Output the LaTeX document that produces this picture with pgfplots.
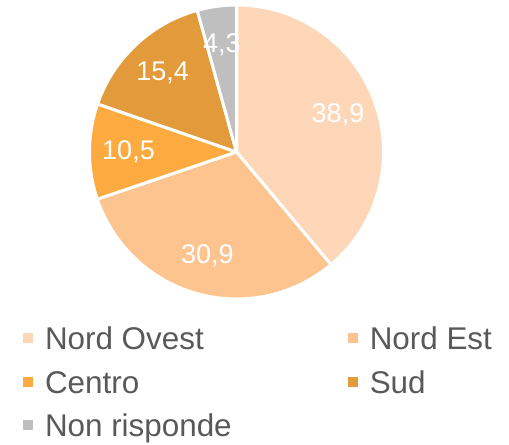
\documentclass[border=0pt]{standalone}
\usepackage{fontspec}
\setmainfont{Liberation Sans}
\usepackage{pgfplots}
\usepackage{pgfplotstable}
\pgfplotsset{compat=1.18}
\definecolor{cNO}{HTML}{FDD7B8}
\definecolor{cNE}{HTML}{FDC48F}
\definecolor{cCE}{HTML}{FDAB40}
\definecolor{cSU}{HTML}{E29A3A}
\definecolor{cNR}{HTML}{BFBFBF}
\definecolor{legtext}{HTML}{595959}

\pgfplotstableread[col sep=semicolon]{
region;value;color;lab
Nord Ovest;38.9;cNO;38,9
Nord Est;30.9;cNE;30,9
Centro;10.5;cCE;10,5
Sud;15.4;cSU;15,4
Non risponde;4.3;cNR;4,3
}\piedata

\begin{document}
\begin{tikzpicture}
\begin{axis}[
  scale only axis, width=509bp, height=445bp,
  xmin=0, xmax=509, ymin=-445, ymax=0,
  hide axis, clip=false,
  legend columns=2,
  legend style={draw=none, fill=none, inner sep=0pt, outer sep=0pt,
    at={(axis cs:23,-327)}, anchor=north west,
    font=\fontsize{31.4bp}{36bp}\selectfont, text=legtext,
    row sep=13.5bp,
    nodes={inner sep=0pt, text height=23bp, text depth=7bp},
    cells={anchor=west},
    /tikz/every odd column/.append style={column sep=12bp},
    /tikz/every even column/.append style={column sep=116bp}},
  legend image code/.code={\fill[#1,draw=none] (0bp,-1.5bp) rectangle (10bp,8.5bp);},
]
\def\cx{236.5}\def\cy{-152}
\def\cum{0}
\pgfplotsforeachungrouped \i in {0,...,4}{%
  \pgfplotstablegetelem{\i}{value}\of\piedata \let\v\pgfplotsretval
  \pgfplotstablegetelem{\i}{color}\of\piedata \let\c\pgfplotsretval
  \pgfmathsetmacro\aS{90-3.6*\cum}%
  \pgfmathsetmacro\aE{90-3.6*(\cum+\v)}%
  \pgfmathsetmacro\cum{\cum+\v}%
  \edef\cmd{\noexpand\filldraw[fill=\c, draw=white, line width=3bp, line join=round]
    (axis cs:\cx,\cy) -- ++(\aS:147bp) arc[start angle=\aS, end angle=\aE, radius=147bp] -- cycle;}%
  \cmd
}
\def\cum{0}
\pgfplotsforeachungrouped \i in {0,...,4}{%
  \pgfplotstablegetelem{\i}{value}\of\piedata \let\v\pgfplotsretval
  \pgfplotstablegetelem{\i}{lab}\of\piedata \let\lab\pgfplotsretval
  \pgfmathsetmacro\aS{90-3.6*\cum}%
  \pgfmathsetmacro\aE{90-3.6*(\cum+\v)}%
  \pgfmathsetmacro\aM{(\aS+\aE)/2}%
  \pgfmathsetmacro\lx{\cx+108*cos(\aM)}%
  \pgfmathsetmacro\ly{\cy+108*sin(\aM)}%
  \pgfmathsetmacro\cum{\cum+\v}%
  \edef\cmd{\noexpand\node[text=white, font=\noexpand\fontsize{27bp}{30bp}\noexpand\selectfont, inner sep=0pt] at (axis cs:\lx,\ly) {\lab};}%
  \cmd
}
\addlegendimage{fill=cNO,draw=none}\addlegendentry{Nord Ovest}
\addlegendimage{fill=cNE,draw=none}\addlegendentry{Nord Est}
\addlegendimage{fill=cCE,draw=none}\addlegendentry{Centro}
\addlegendimage{fill=cSU,draw=none}\addlegendentry{Sud}
\addlegendimage{fill=cNR,draw=none}\addlegendentry{Non risponde}
\end{axis}
\pgfresetboundingbox
\path (current axis.south west) rectangle (current axis.north east);
\end{tikzpicture}
\end{document}
